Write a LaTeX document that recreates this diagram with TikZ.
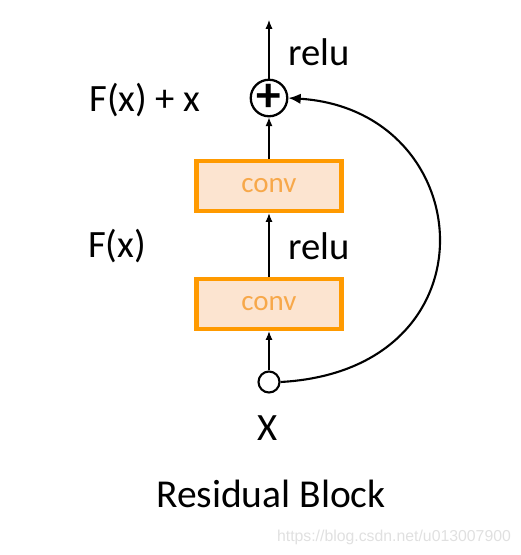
\documentclass[tikz,border=0pt]{standalone}
\usepackage{xcolor}
\usepackage{tikz}
\usetikzlibrary{arrows.meta}
\usepackage{fontspec}
\setmainfont{Carlito}
\newfontfamily\markfont{Liberation Sans}
\definecolor{convline}{HTML}{FF9A00}
\definecolor{convfill}{HTML}{FCE4D0}
\definecolor{convtext}{HTML}{F7A84A}

\begin{document}
\begin{tikzpicture}[
    x=0.02cm, y=-0.02cm,
    conv/.style={rectangle, draw=convline, fill=convfill, line width=2.5pt,
                 minimum width=2.9cm, minimum height=1.0cm,
                 font=\fontsize{16.5}{18}\selectfont\color{convtext}},
    lbl/.style={font=\fontsize{22}{25}\selectfont},
    flow/.style={-{Latex[length=5pt,width=4pt]}, line width=0.6pt},
]
  \useasboundingbox (0,0) rectangle (521,555);

  % Block: input, two conv layers, addition
  \node[circle, draw, line width=1.2pt, minimum size=0.42cm, inner sep=0pt] (inp) at (269,382) {};
  \node[conv] (conv1) at (269,304) {conv};
  \node[conv] (conv2) at (269,186) {conv};
  \node[circle, draw, line width=1.3pt, minimum size=0.7cm, inner sep=0pt,
        font=\fontsize{28}{28}\selectfont\bfseries] (add) at (269,98) {+};
  \coordinate (out) at (269,20);

  % Labels
  \node[lbl] (relu2) at (319,52) {relu};
  \node[lbl] (sum) at (145,100) {F(x) + x};
  \node[lbl] (relu1) at (319,246) {relu};
  \node[lbl] (fx) at (117,246) {F(x)};
  \node[lbl] (xin) at (268,428) {X};
  \node[font=\fontsize{22.5}{26}\selectfont] (title) at (271,494) {Residual Block};
  \node[font=\markfont\fontsize{9}{11}\selectfont, text=black!12] (mark) at (394,537)
       {https://blog.csdn.net/u013007900};

  % Main path
  \draw[flow] (inp) -- (conv1);
  \draw[flow] (conv1) -- (conv2);
  \draw[flow] (conv2) -- (add);
  \draw[flow] (add) -- (out);

  % Shortcut
  \draw[-{Latex[length=7pt,width=6pt]}, line width=1.2pt] (inp.east)
        .. controls (500,370) and (480,110) .. (add.east);
\end{tikzpicture}
\end{document}
